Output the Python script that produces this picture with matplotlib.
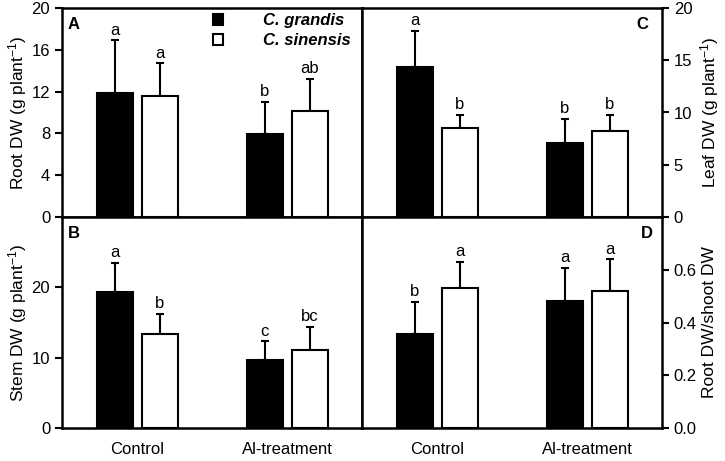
import matplotlib.pyplot as plt
import numpy as np

plt.rcParams['font.family'] = ['Liberation Sans', 'DejaVu Sans']
plt.rcParams['mathtext.fontset'] = 'custom'
plt.rcParams['mathtext.rm'] = 'Liberation Sans'
plt.rcParams['mathtext.it'] = 'Liberation Sans:italic'

treatments = ['Control', 'Al-treatment']
species = ['C. grandis', 'C. sinensis']

# values per panel: [Control, Al-treatment] for each species
root_grandis = [11.9, 7.95]
root_grandis_err = [5.0, 3.05]
root_sinensis = [11.6, 10.1]
root_sinensis_err = [3.1, 3.1]
root_letters = [['a', 'b'], ['a', 'ab']]

stem_grandis = [19.3, 9.6]
stem_grandis_err = [4.2, 2.7]
stem_sinensis = [13.4, 11.1]
stem_sinensis_err = [2.8, 3.3]
stem_letters = [['a', 'c'], ['b', 'bc']]

leaf_grandis = [14.4, 7.1]
leaf_grandis_err = [3.4, 2.3]
leaf_sinensis = [8.55, 8.25]
leaf_sinensis_err = [1.2, 1.5]
leaf_letters = [['a', 'b'], ['b', 'b']]

ratio_grandis = [0.358, 0.482]
ratio_grandis_err = [0.119, 0.124]
ratio_sinensis = [0.529, 0.518]
ratio_sinensis_err = [0.100, 0.121]
ratio_letters = [['b', 'a'], ['a', 'a']]


def draw_panel(ax, g, g_err, s, s_err, letters):
    x = np.array([1.0, 3.0])
    w = 0.48
    off = 0.30
    bg = ax.bar(x - off, g, w, color='black', edgecolor='black', linewidth=1.5, zorder=2)
    bs = ax.bar(x + off, s, w, color='white', edgecolor='black', linewidth=1.5, zorder=2)
    for xx, vals, errs in [(x - off, g, g_err), (x + off, s, s_err)]:
        ax.errorbar(xx, vals, yerr=[np.zeros(len(vals)), errs], fmt='none',
                    ecolor='black', elinewidth=1.5, capsize=3, capthick=1.5, zorder=1)
    for xx, vals, errs, labs in [(x - off, g, g_err, letters[0]), (x + off, s, s_err, letters[1])]:
        for xi, v, e, lab in zip(xx, vals, errs, labs):
            ax.annotate(lab, (xi, v + e), xytext=(0, 2), textcoords='offset points',
                        ha='center', va='bottom', fontsize=12)
    ax.set_xlim(0, 4)
    for sp in ax.spines.values():
        sp.set_linewidth(1.8)
    ax.tick_params(axis='y', direction='out', length=5, width=1.5, labelsize=12)
    ax.tick_params(axis='x', length=0, labelsize=12, pad=10)
    return bg, bs


fig = plt.figure(figsize=(7.25, 4.61), dpi=100)
left, mid, right = 62 / 725, 362 / 725, 662 / 725
top, hmid, bottom = 1 - 8 / 461, 1 - 217 / 461, 1 - 428 / 461

axA = fig.add_axes([left, hmid, mid - left, top - hmid])
axC = fig.add_axes([mid, hmid, right - mid, top - hmid])
axB = fig.add_axes([left, bottom, mid - left, hmid - bottom])
axD = fig.add_axes([mid, bottom, right - mid, hmid - bottom])

bg, bs = draw_panel(axA, root_grandis, root_grandis_err, root_sinensis, root_sinensis_err, root_letters)
axA.set_ylim(0, 20)
axA.set_yticks([0, 4, 8, 12, 16, 20])
axA.set_xticks([])
axA.set_ylabel('Root DW (g plant$^{-1}$)', fontsize=12.5, labelpad=2)

draw_panel(axB, stem_grandis, stem_grandis_err, stem_sinensis, stem_sinensis_err, stem_letters)
axB.set_ylim(0, 30)
axB.set_yticks([0, 10, 20])
axB.set_xticks([1, 3], treatments)
axB.set_ylabel('Stem DW (g plant$^{-1}$)', fontsize=12.5, labelpad=2)

draw_panel(axC, leaf_grandis, leaf_grandis_err, leaf_sinensis, leaf_sinensis_err, leaf_letters)
axC.set_ylim(0, 20)
axC.set_yticks([0, 5, 10, 15, 20])
axC.set_xticks([])
axC.yaxis.tick_right()
axC.yaxis.set_label_position('right')
axC.set_ylabel('Leaf DW (g plant$^{-1}$)', fontsize=12.5)

draw_panel(axD, ratio_grandis, ratio_grandis_err, ratio_sinensis, ratio_sinensis_err, ratio_letters)
axD.set_ylim(0, 0.8)
axD.set_yticks([0.0, 0.2, 0.4, 0.6], ['0.0', '0.2', '0.4', '0.6'])
axD.set_xticks([1, 3], treatments)
axD.yaxis.tick_right()
axD.yaxis.set_label_position('right')
axD.set_ylabel('Root DW/shoot DW', fontsize=12.5)

for ax, letter, xpos, ha in [(axA, 'A', 0.02, 'left'), (axB, 'B', 0.02, 'left'),
                             (axC, 'C', 0.955, 'right'), (axD, 'D', 0.97, 'right')]:
    ax.text(xpos, 0.92, letter, transform=ax.transAxes, ha=ha, va='center',
            fontsize=12, fontweight='bold')

axA.legend([bg, bs], species, loc='upper left', bbox_to_anchor=(0.465, 1.03),
           frameon=False, borderpad=0.2, handlelength=0.6, handleheight=0.6,
           handletextpad=2.4, labelspacing=0.3,
           prop={'weight': 'bold', 'style': 'italic', 'size': 12})

fig.savefig('out.png', dpi=100)
